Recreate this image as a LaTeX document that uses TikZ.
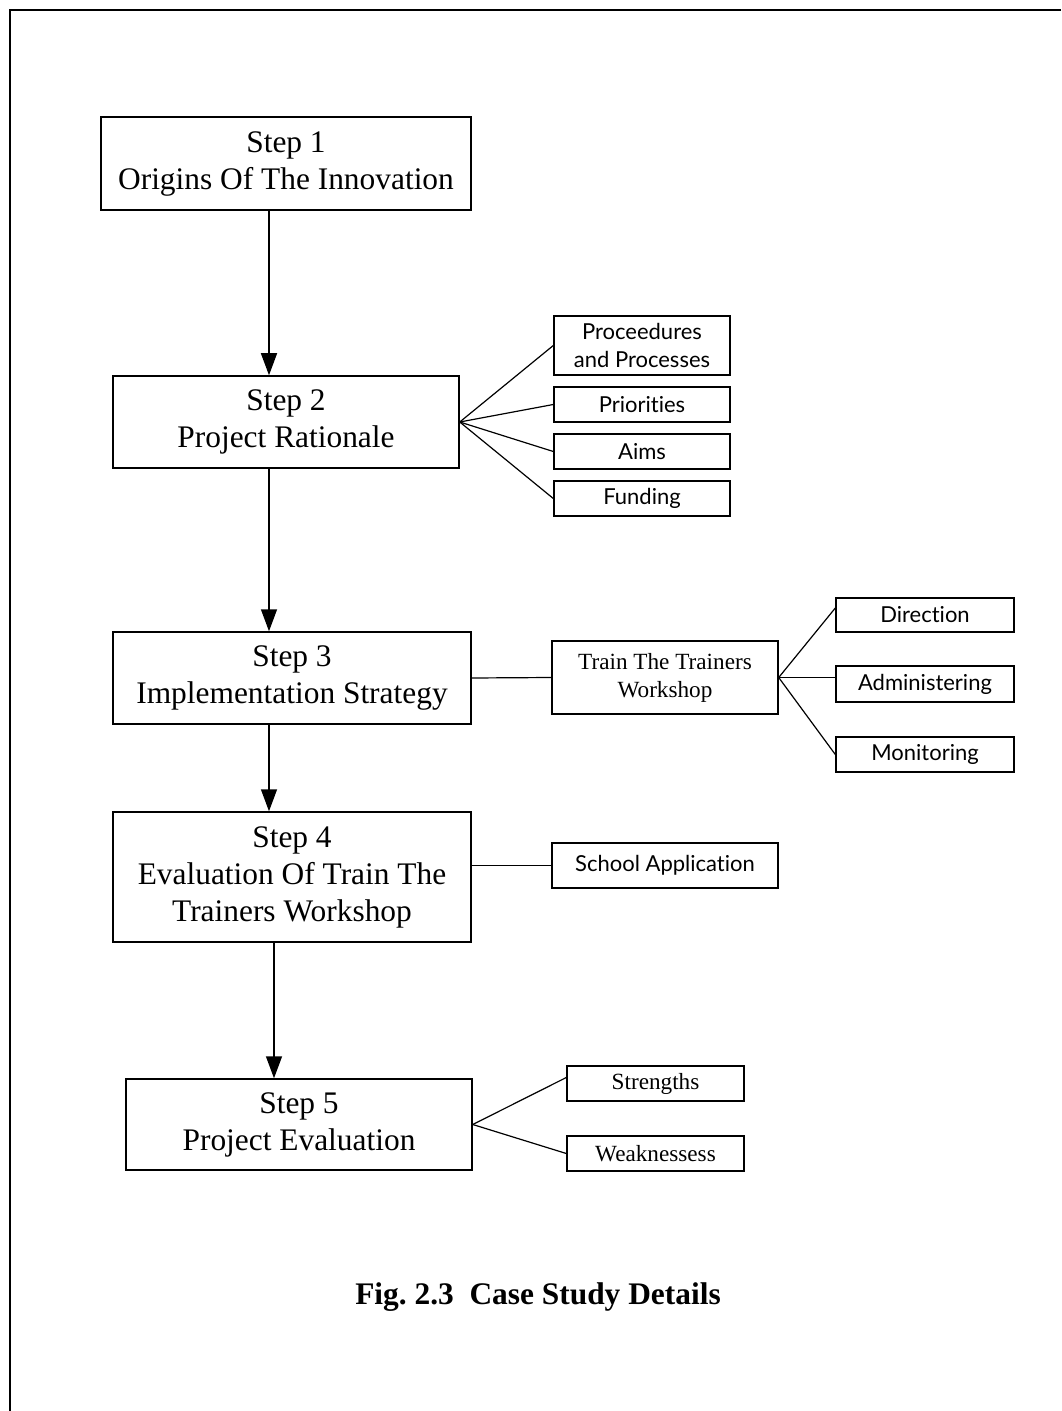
\documentclass[tikz,border=0pt]{standalone}
\usepackage{fontspec}
\setmainfont{Liberation Serif}
\newfontfamily\optfont[Ligatures=NoCommon]{Lato}
\usetikzlibrary{arrows, arrows.meta, positioning}

\newcommand{\pw}[1]{#1 * 0.5pt}

\begin{document}
\begin{tikzpicture}[x=0.5pt, y=-0.5pt,
	stepbox/.style={draw, line width=0.75pt, inner sep=0pt, align=center, font=\fontsize{15.7}{18.5}\selectfont},
	subbox/.style={draw, line width=0.7pt, inner sep=0pt, align=center, font=\fontsize{11.6}{14}\selectfont},
	optbox/.style={subbox, font=\optfont\fontsize{11}{14}\selectfont},
	flow/.style={line width=0.75pt, -{Triangle[length=11pt, width=8pt]}},
	link/.style={line width=0.6pt}]

\useasboundingbox (0,0) rectangle (1061,1411);
\draw[line width=0.8pt] (1061,10) -- (10,10) -- (10,1411); % page frame

\coordinate (spine) at (269,0); % x of the main arrows
\coordinate (spine5) at (274,0);

% main steps
\node[stepbox, minimum width=\pw{370}, minimum height=\pw{93}]  (step1) at (286,163.5) {Step 1\\Origins Of The Innovation};
\node[stepbox, minimum width=\pw{346}, minimum height=\pw{92}]  (step2) at (286,422)   {Step 2\\Project Rationale};
\node[stepbox, minimum width=\pw{358}, minimum height=\pw{92}]  (step3) at (292,678)   {Step 3\\Implementation Strategy};
\node[stepbox, minimum width=\pw{358}, minimum height=\pw{130}] (step4) at (292,877)   {Step 4\\Evaluation Of Train The\\Trainers Workshop};
\node[stepbox, minimum width=\pw{346}, minimum height=\pw{91}]  (step5) at (299,1124.5) {Step 5\\Project Evaluation};

\draw[flow] (step1.south -| spine) -- (step2.north -| spine);
\draw[flow] (step2.south -| spine) -- (step3.north -| spine);
\draw[flow] (step3.south -| spine) -- (step4.north -| spine);
\draw[flow] (step4.south -| spine5) -- (step5.north -| spine5);

% step 2 details
\node[optbox, minimum width=\pw{176}, minimum height=\pw{59}] (proc) at (642,345.5) {Proceedures\\and Processes};
\node[optbox, minimum width=\pw{176}, minimum height=\pw{35}] (prio) at (642,404.5) {Priorities};
\node[optbox, minimum width=\pw{176}, minimum height=\pw{35}] (aims) at (642,451.5) {Aims};
\node[optbox, minimum width=\pw{176}, minimum height=\pw{35}] (fund) at (642,498.5) {Funding};
\foreach \t in {proc, prio, aims, fund}
	\draw[link] (step2.east) -- (\t.west);

% step 3 details
\node[subbox, minimum width=\pw{226}, minimum height=\pw{73}] (train) at (665,677.5) {Train The Trainers\\Workshop};
\node[optbox, minimum width=\pw{178}, minimum height=\pw{34}] (dir)   at (925,615)   {Direction};
\node[optbox, minimum width=\pw{178}, minimum height=\pw{36}] (admin) at (925,684)   {Administering};
\node[optbox, minimum width=\pw{178}, minimum height=\pw{35}] (mon)   at (925,754.5) {Monitoring};
\draw[link] (step3.east) -- (train.west);
\draw[link] (train.east) -- ([yshift=3.5pt]dir.west);
\draw[link] (train.east) -- (train.east -| admin.west);
\draw[link] (train.east) -- (mon.west);

% step 4 details
\node[optbox, minimum width=\pw{226}, minimum height=\pw{45}] (school) at (665,865.5) {School Application};
\draw[link] (step4.east |- school.west) -- (school.west);

% step 5 details
\node[subbox, minimum width=\pw{177}, minimum height=\pw{35}] (str)  at (655.5,1083.5) {Strengths};
\node[subbox, minimum width=\pw{177}, minimum height=\pw{35}] (weak) at (655.5,1153.5) {Weaknessess};
\draw[link] (step5.east) -- ([yshift=3pt]str.west);
\draw[link] (step5.east) -- (weak.west);

\node[font=\bfseries\fontsize{15.7}{18}\selectfont] (caption) at (538,1297) {Fig.\ 2.3~~Case Study Details};

\end{tikzpicture}
\end{document}
